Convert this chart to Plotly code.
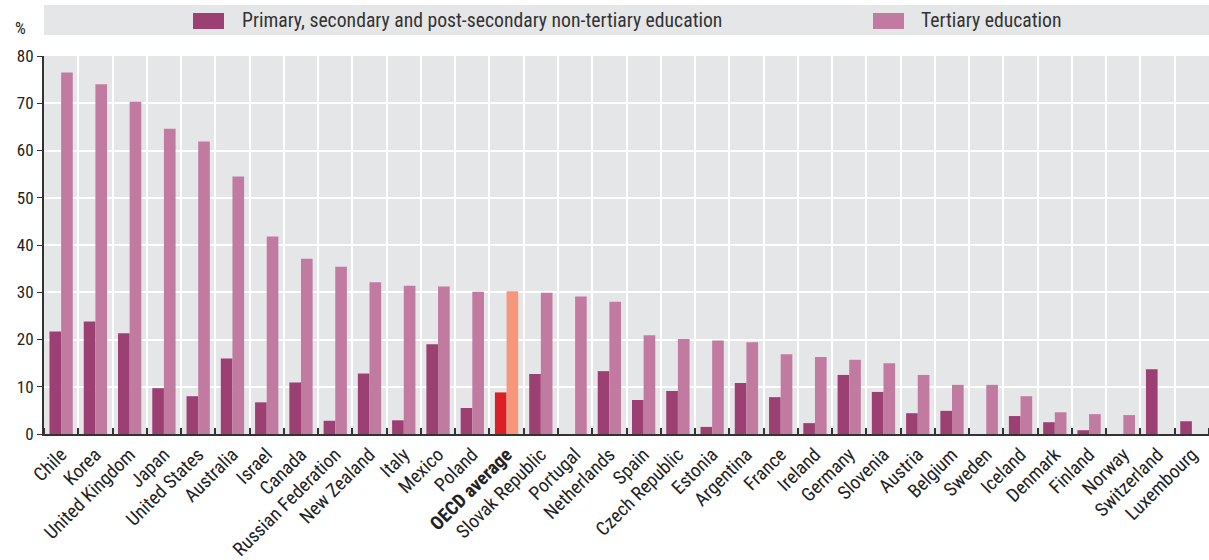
import plotly.graph_objects as go

countries = ["Chile", "Korea", "United Kingdom", "Japan", "United States", "Australia", "Israel",
             "Canada", "Russian Federation", "New Zealand", "Italy", "Mexico", "Poland", "OECD average",
             "Slovak Republic", "Portugal", "Netherlands", "Spain", "Czech Republic", "Estonia",
             "Argentina", "France", "Ireland", "Germany", "Slovenia", "Austria", "Belgium", "Sweden",
             "Iceland", "Denmark", "Finland", "Norway", "Switzerland", "Luxembourg"]

primary = [21.7, 23.8, 21.3, 9.7, 8.0, 16.0, 6.7, 10.9, 2.8, 12.8, 2.9, 19.0, 5.5, 8.8,
           12.7, 0, 13.3, 7.2, 9.1, 1.5, 10.8, 7.8, 2.3, 12.5, 8.9, 4.4, 4.9, 0,
           3.8, 2.5, 0.8, 0, 13.7, 2.7]

tertiary = [76.5, 74.0, 70.3, 64.6, 61.9, 54.5, 41.8, 37.1, 35.4, 32.1, 31.4, 31.2, 30.1, 30.2,
            29.9, 29.1, 28.0, 20.9, 20.1, 19.8, 19.4, 16.9, 16.3, 15.7, 15.0, 12.5, 10.4, 10.4,
            8.0, 4.6, 4.2, 4.0, 0, 0]

series_names = ["Primary, secondary and post-secondary non-tertiary education", "Tertiary education"]
y_ticks = [0, 10, 20, 30, 40, 50, 60, 70, 80]

C_PRIM = "#9C3F73"
C_TERT = "#C17BA0"
C_PRIM_OECD = "#DC1E26"
C_TERT_OECD = "#F4977A"
BG = "#E5E6E8"

x = list(range(len(countries)))
prim_colors = [C_PRIM_OECD if c == "OECD average" else C_PRIM for c in countries]
tert_colors = [C_TERT_OECD if c == "OECD average" else C_TERT for c in countries]
tick_text = ["<b>" + c + "</b>" if c == "OECD average" else c for c in countries]

FONT = "Liberation Sans Narrow, Arial Narrow, Roboto Condensed, sans-serif"

fig = go.Figure()
fig.add_trace(go.Bar(x=x, y=primary, name=series_names[0], showlegend=False,
                     marker=dict(color=prim_colors, line=dict(width=0))))
fig.add_trace(go.Bar(x=x, y=tertiary, name=series_names[1], showlegend=False,
                     marker=dict(color=tert_colors, line=dict(width=0))))

# legend strip (drawn manually to match the reference layout)
fig.add_shape(type="rect", xref="paper", yref="paper", x0=0, x1=1, y0=1.0556, y1=1.1349,
              fillcolor=BG, line=dict(width=0), layer="below")
legend_items = [
    (series_names[0], C_PRIM, 0.1279, 0.1545, 0.1682),
    (series_names[1], C_TERT, 0.7116, 0.7382, 0.7511),
]
for name, col, sx0, sx1, tx in legend_items:
    fig.add_shape(type="rect", xref="paper", yref="paper", x0=sx0, x1=sx1, y0=1.0714, y1=1.1138,
                  fillcolor=col, line=dict(width=0))
    fig.add_annotation(text=name, xref="paper", yref="paper", x=tx, y=1.0926,
                       xanchor="left", yanchor="middle", showarrow=False,
                       font=dict(family=FONT, size=19.7, color="#333"))

fig.add_annotation(text="%", xref="paper", yref="paper", x=-0.0206, y=1.074,
                   xanchor="center", yanchor="middle", showarrow=False,
                   font=dict(family=FONT, size=17, color="#222"))

fig.update_layout(
    width=1209, height=560,
    margin=dict(l=44, r=0, t=56, b=126),
    paper_bgcolor="white",
    plot_bgcolor=BG,
    barmode="group",
    bargap=0.32,
    bargroupgap=0,
    font=dict(family=FONT, size=15, color="#222"),
    showlegend=False,
    xaxis=dict(
        range=[-0.5, len(countries) - 0.5],
        tickmode="array", tickvals=x, ticktext=tick_text, tickangle=-45,
        ticks="", showgrid=False, zeroline=False, automargin=False,
        showline=True, linecolor="#333", linewidth=2,
        tickfont=dict(family=FONT, size=19, color="#222"),
        minor=dict(tick0=-0.5, dtick=1, showgrid=True, gridcolor="white", gridwidth=2,
                   ticks="inside", ticklen=6, tickcolor="#333", tickwidth=1.5),
        fixedrange=True,
    ),
    yaxis=dict(
        range=[0, 80], tickmode="array", tickvals=y_ticks,
        showgrid=True, gridcolor="white", gridwidth=2, zeroline=False, automargin=False,
        showline=True, linecolor="#333", linewidth=2,
        ticks="outside", ticklen=5, tickcolor="#333",
        tickfont=dict(family=FONT, size=17, color="#222"),
        fixedrange=True,
    ),
)

fig.write_html("out.html", config={"displayModeBar": False},
               post_script="document.body.style.margin='0';")
